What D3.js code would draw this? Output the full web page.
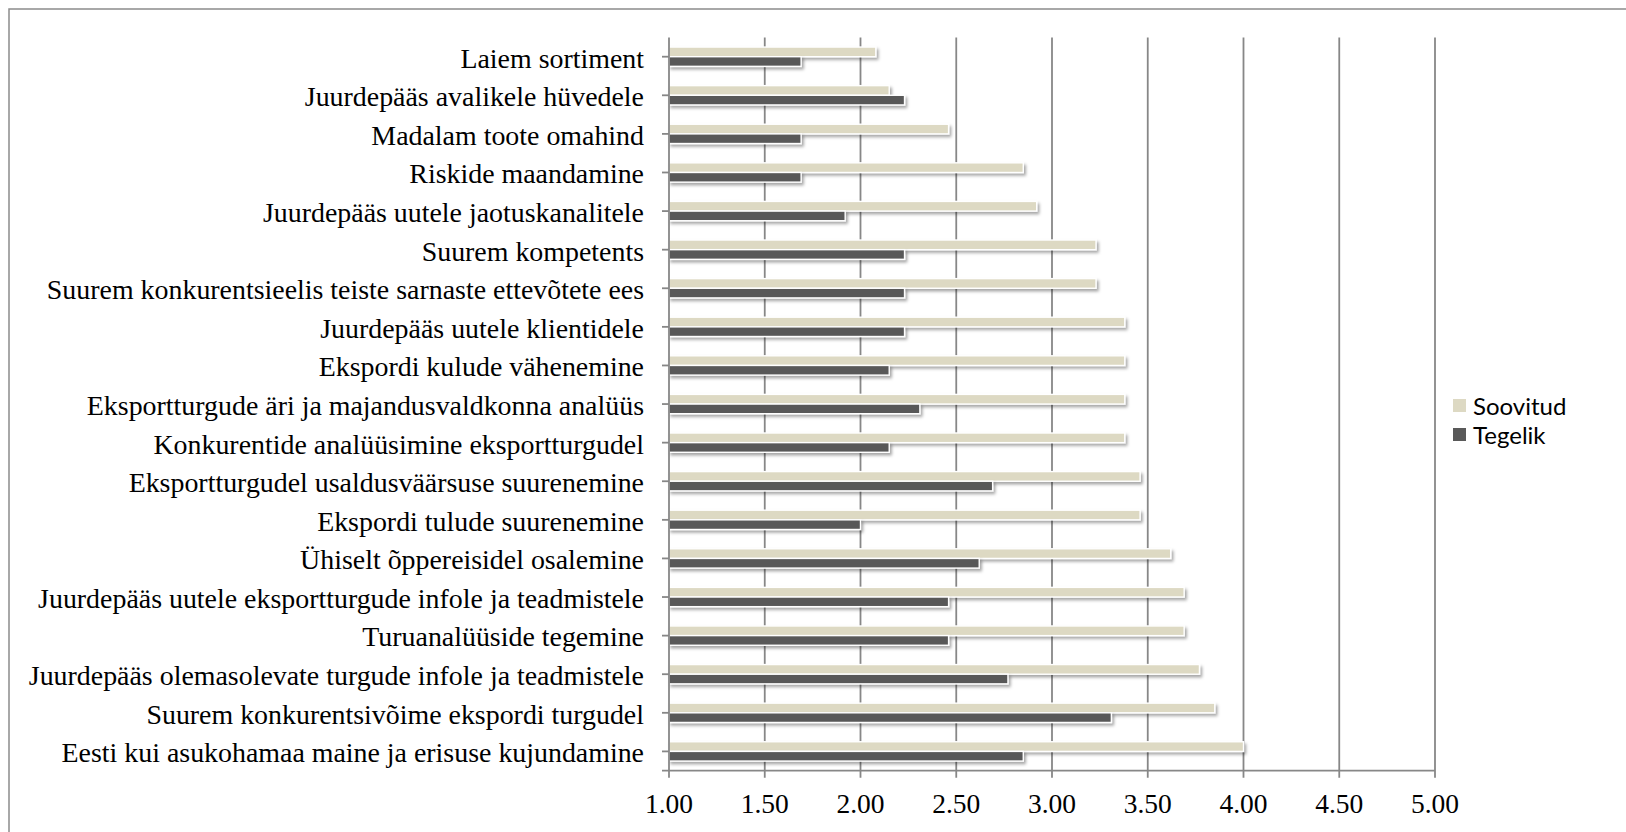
<!DOCTYPE html>
<html>
<head>
<meta charset="utf-8">
<script src="https://cdn.jsdelivr.net/npm/d3@7"></script>
<style>
  html, body { margin: 0; padding: 0; background: #fff; overflow: hidden; }
  svg { display: block; }
</style>
</head>
<body>
<svg id="chart" width="1626" height="832"></svg>
<script>
// Categories, top to bottom
const categories = [
  "Laiem sortiment",
  "Juurdepääs avalikele hüvedele",
  "Madalam toote omahind",
  "Riskide maandamine",
  "Juurdepääs uutele jaotuskanalitele",
  "Suurem kompetents",
  "Suurem konkurentsieelis teiste sarnaste ettevõtete ees",
  "Juurdepääs uutele klientidele",
  "Ekspordi kulude vähenemine",
  "Eksportturgude äri ja majandusvaldkonna analüüs",
  "Konkurentide analüüsimine eksportturgudel",
  "Eksportturgudel usaldusväärsuse suurenemine",
  "Ekspordi tulude suurenemine",
  "Ühiselt õppereisidel osalemine",
  "Juurdepääs uutele eksportturgude infole ja teadmistele",
  "Turuanalüüside tegemine",
  "Juurdepääs olemasolevate turgude infole ja teadmistele",
  "Suurem konkurentsivõime ekspordi turgudel",
  "Eesti kui asukohamaa maine ja erisuse kujundamine"
];

// Desired (Soovitud) and actual (Tegelik) mean scores
const soovitud = [2.08, 2.15, 2.46, 2.85, 2.92, 3.23, 3.23, 3.38, 3.38, 3.38, 3.38, 3.46, 3.46, 3.62, 3.69, 3.69, 3.77, 3.85, 4.00];
const tegelik  = [1.69, 2.23, 1.69, 1.69, 1.92, 2.23, 2.23, 2.23, 2.15, 2.31, 2.15, 2.69, 2.00, 2.62, 2.46, 2.46, 2.77, 3.31, 2.85];

const seriesNames = ["Soovitud", "Tegelik"];
const seriesColors = ["#ddd9c3", "#595959"];
const xTicks = [1.00, 1.50, 2.00, 2.50, 3.00, 3.50, 4.00, 4.50, 5.00];

const svg = d3.select("#chart");
const plotLeft = 669, plotRight = 1435, plotTop = 37.4, plotBottom = 770.7;

const x = d3.scaleLinear().domain([1, 5]).range([plotLeft, plotRight]);
const y = d3.scaleBand().domain(categories).range([plotTop, plotBottom]);
const ySub = d3.scaleBand().domain(seriesNames).range([0, y.bandwidth()])
  .paddingInner(0).paddingOuter(1);

// Soft drop shadow under the bars
const defs = svg.append("defs");
const f = defs.append("filter").attr("id", "shadow")
  .attr("x", "-5%").attr("y", "-50%").attr("width", "115%").attr("height", "250%");
f.append("feDropShadow").attr("dx", 2).attr("dy", 2.5).attr("stdDeviation", 1.6)
  .attr("flood-color", "#000").attr("flood-opacity", 0.35);

// Outer chart border (left and top edges visible)
svg.append("rect").attr("x", 9).attr("y", 9).attr("width", 1640).attr("height", 860)
  .attr("fill", "none").attr("stroke", "#8c8c8c").attr("stroke-width", 1.5);

// Vertical gridlines with downward tick marks
const axisColor = "#878787";
svg.append("g").selectAll("line").data(xTicks.slice(1)).join("line")
  .attr("x1", d => x(d)).attr("x2", d => x(d))
  .attr("y1", plotTop).attr("y2", plotBottom + 7)
  .attr("stroke", axisColor).attr("stroke-width", 1.8);

// Bars
const rows = categories.map((c, i) => ({ c, vals: [soovitud[i], tegelik[i]] }));
const gRows = svg.append("g").selectAll("g").data(rows).join("g")
  .attr("transform", d => `translate(0,${y(d.c)})`);
gRows.selectAll("rect").data(d => d.vals.map((v, k) => ({ v, k }))).join("rect")
  .attr("x", x(1))
  .attr("y", d => ySub(seriesNames[d.k]))
  .attr("width", d => x(d.v) - x(1))
  .attr("height", ySub.bandwidth())
  .attr("fill", d => seriesColors[d.k])
  .attr("stroke", "#ffffff").attr("stroke-width", 1.4)
  .attr("filter", "url(#shadow)");

// Horizontal axis line
svg.append("line").attr("x1", x(1) - 7).attr("x2", plotRight).attr("y1", plotBottom).attr("y2", plotBottom)
  .attr("stroke", axisColor).attr("stroke-width", 1.8);

// Vertical category axis line and ticks
svg.append("line").attr("x1", x(1)).attr("x2", x(1)).attr("y1", plotTop).attr("y2", plotBottom + 7)
  .attr("stroke", axisColor).attr("stroke-width", 1.8);
svg.append("g").selectAll("line").data(categories).join("line")
  .attr("x1", x(1) - 7).attr("x2", x(1))
  .attr("y1", d => y(d) + y.bandwidth() / 2).attr("y2", d => y(d) + y.bandwidth() / 2)
  .attr("stroke", axisColor).attr("stroke-width", 1.8);

// Category labels
svg.append("g").selectAll("text").data(categories).join("text")
  .attr("x", x(1) - 25)
  .attr("y", d => y(d) + y.bandwidth() / 2)
  .attr("dy", "0.39em")
  .attr("text-anchor", "end")
  .attr("font-family", "'Liberation Serif', 'Times New Roman', serif")
  .attr("font-size", 27.9)
  .attr("fill", "#000")
  .text(d => d);

// Value axis tick labels
svg.append("g").selectAll("text").data(xTicks).join("text")
  .attr("x", d => x(d))
  .attr("y", 813)
  .attr("text-anchor", "middle")
  .attr("font-family", "'Liberation Serif', 'Times New Roman', serif")
  .attr("font-size", 27.5)
  .attr("fill", "#000")
  .text(d => d.toFixed(2));

// Legend
const legend = svg.append("g").attr("transform", "translate(1453,399)");
const li = legend.selectAll("g").data(seriesNames).join("g")
  .attr("transform", (d, i) => `translate(0,${i * 29})`);
li.append("rect").attr("width", 13).attr("height", 13)
  .attr("fill", (d, i) => seriesColors[i]);
li.append("text").attr("x", 20).attr("y", 15.5)
  .attr("font-family", "Lato, 'Open Sans', sans-serif")
  .attr("font-size", 24)
  .attr("fill", "#000")
  .text(d => d);
</script>
</body>
</html>
